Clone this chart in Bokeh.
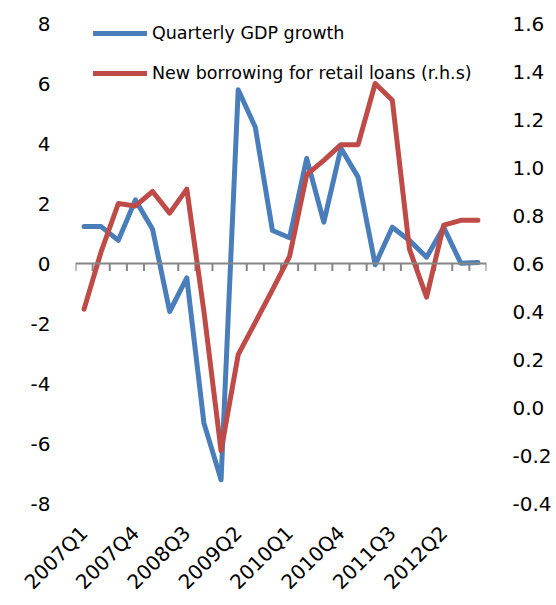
import math
from bokeh.plotting import figure
from bokeh.models import (Range1d, LinearAxis, FixedTicker, NumeralTickFormatter,
                          Span, Legend, LegendItem, ColumnDataSource)
from bokeh.embed import file_html
from bokeh.resources import INLINE

quarters = [f"{y}Q{q}" for y in range(2007, 2013) for q in range(1, 5)]
gdp_growth = [1.23, 1.23, 0.77, 2.12, 1.14, -1.6, -0.48, -5.32, -7.21, 5.79, 4.54, 1.1,
              0.86, 3.5, 1.38, 3.84, 2.88, -0.04, 1.21, 0.77, 0.21, 1.21, 0.01, 0.03]
retail_borrowing = [0.41, 0.65, 0.85, 0.84, 0.90, 0.81, 0.91, 0.40, -0.18, 0.22, 0.355, 0.49,
                    0.63, 0.97, 1.03, 1.095, 1.095, 1.35, 1.28, 0.66, 0.46, 0.76, 0.78, 0.78]
left_ticks = [-8, -6, -4, -2, 0, 2, 4, 6, 8]
right_ticks = [-0.4, -0.2, 0.0, 0.2, 0.4, 0.6, 0.8, 1.0, 1.2, 1.4, 1.6]
label_every = 3

FONT = "DejaVu Sans"
BLUE = "#4A7EBB"
RED = "#BE4B48"
GRAY = "#868686"

n = len(quarters)
xs = [i + 0.5 for i in range(n)]
src = ColumnDataSource(dict(x=xs, gdp=gdp_growth, loans=retail_borrowing))

p = figure(width=556, height=605, output_backend="svg", toolbar_location=None,
           x_range=Range1d(0, n), y_range=Range1d(left_ticks[0], left_ticks[-1]),
           min_border_left=75, min_border_right=70, min_border_top=23, min_border_bottom=102,
           x_axis_location=None, y_axis_location=None)
p.outline_line_color = None
p.grid.visible = False
p.extra_y_ranges = {"right": Range1d(right_ticks[0], right_ticks[-1])}

def style_axis(ax, standoff):
    ax.axis_line_color = None
    ax.major_tick_line_color = None
    ax.minor_tick_line_color = None
    ax.major_tick_out = 0
    ax.major_tick_in = 0
    ax.minor_tick_out = 0
    ax.major_label_standoff = standoff
    ax.major_label_text_font = FONT
    ax.major_label_text_font_size = "20px"
    ax.major_label_text_color = "#000000"

left = LinearAxis(ticker=FixedTicker(ticks=left_ticks), formatter=NumeralTickFormatter(format="0"))
style_axis(left, 25)
p.add_layout(left, "left")

right = LinearAxis(y_range_name="right", ticker=FixedTicker(ticks=right_ticks),
                   formatter=NumeralTickFormatter(format="0.0"))
style_axis(right, 26)
p.add_layout(right, "right")

label_pos = [xs[i] for i in range(0, n, label_every)]
bottom = LinearAxis(ticker=FixedTicker(ticks=label_pos),
                    major_label_overrides={xs[i]: quarters[i] for i in range(0, n, label_every)})
style_axis(bottom, 26)
bottom.major_label_orientation = math.pi / 4
p.add_layout(bottom, "below")

# category axis drawn at zero
p.add_layout(Span(location=0, dimension="width", line_color=GRAY, line_width=2))
bounds = list(range(n + 1))
p.segment(x0=bounds, x1=bounds, y0=[0] * len(bounds), y1=[-0.25] * len(bounds),
          line_color=GRAY, line_width=2)

r1 = p.line("x", "gdp", source=src, line_color=BLUE, line_width=5,
            line_join="round", line_cap="round")
r2 = p.line("x", "loans", source=src, line_color=RED, line_width=5,
            line_join="round", line_cap="round", y_range_name="right")

legend = Legend(items=[LegendItem(label="Quarterly GDP growth", renderers=[r1]),
                       LegendItem(label="New borrowing for retail loans (r.h.s)", renderers=[r2])],
                location=(18, 420), orientation="vertical",
                border_line_color=None, background_fill_alpha=0,
                padding=0, margin=0, spacing=20,
                glyph_width=54, glyph_height=14, label_height=14, label_standoff=5,
                label_text_font=FONT, label_text_font_size="17.5px", label_text_color="#000000")
p.add_layout(legend)

open("out.html", "w").write(file_html(p, INLINE))
